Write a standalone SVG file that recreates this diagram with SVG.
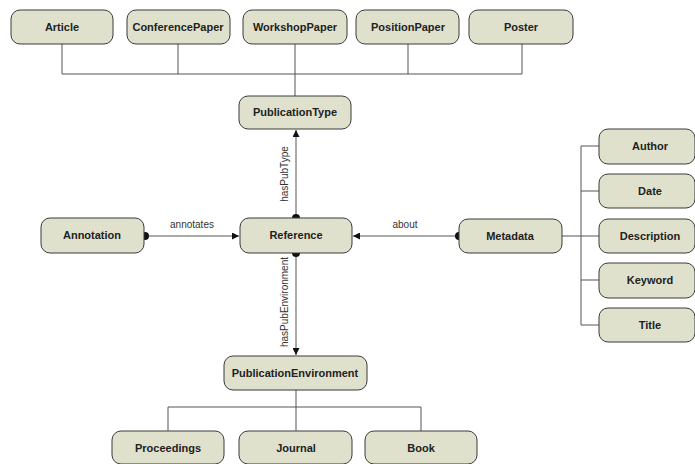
<svg xmlns="http://www.w3.org/2000/svg" width="695" height="464" viewBox="0 0 695 464">
  <style>
    .box { fill: #dfe1cc; stroke: #3a3a3a; stroke-width: 1; }
    .lbl { font-family: "Liberation Sans", Arial, sans-serif; font-size: 11px; font-weight: bold; fill: #222; text-anchor: middle; }
    .edge { fill: none; stroke: #555; stroke-width: 1; }
    .rel { font-family: "Liberation Sans", Arial, sans-serif; font-size: 10px; fill: #333; text-anchor: middle; }
  </style>
  <defs>
    <marker id="arrow" viewBox="0 0 10 10" refX="10" refY="5" markerWidth="7" markerHeight="7" orient="auto" markerUnits="userSpaceOnUse">
      <path d="M0,0 L10,5 L0,10 z" fill="#111"/>
    </marker>
    <marker id="dot" viewBox="0 0 10 10" refX="5" refY="5" markerWidth="8" markerHeight="8" markerUnits="userSpaceOnUse">
      <circle cx="5" cy="5" r="5" fill="#111"/>
    </marker>
  </defs>
  <rect width="695" height="464" fill="#fff"/>

  <g id="connectors">
    <!-- publication type hierarchy -->
    <path class="edge" d="M62,44 V74 H522 V44 M178,44 V74 M295,44 V96 M408,44 V74"/>
    <!-- metadata hierarchy -->
    <path class="edge" d="M562,236 H599 M581,146 V325 M581,146 H599 M581,191 H599 M581,280 H599 M581,325 H599"/>
    <!-- publication environment hierarchy -->
    <path class="edge" d="M296,390 V407 M168,431 V407 H421 V431 M296,407 V431"/>
    <!-- relations -->
    <line class="edge" x1="296" y1="218" x2="296" y2="130" marker-start="url(#dot)" marker-end="url(#arrow)"/>
    <line class="edge" x1="296" y1="253" x2="296" y2="355" marker-start="url(#dot)" marker-end="url(#arrow)"/>
    <line class="edge" x1="145" y1="236" x2="239" y2="236" marker-start="url(#dot)" marker-end="url(#arrow)"/>
    <line class="edge" x1="459" y1="236" x2="353" y2="236" marker-start="url(#dot)" marker-end="url(#arrow)"/>
    <text class="rel" x="192" y="228">annotates</text>
    <text class="rel" x="405" y="228">about</text>
    <text class="rel" transform="translate(288,174) rotate(-90)">hasPubType</text>
    <text class="rel" transform="translate(288,302) rotate(-90)">hasPubEnvironment</text>
  </g>

  <g id="article"><rect class="box" x="11" y="10" width="102" height="34" rx="9"/><text class="lbl" x="62" y="31">Article</text></g>
  <g id="conferencepaper"><rect class="box" x="127" y="10" width="103" height="34" rx="9"/><text class="lbl" x="178" y="31">ConferencePaper</text></g>
  <g id="workshoppaper"><rect class="box" x="243" y="10" width="104" height="34" rx="9"/><text class="lbl" x="295" y="31">WorkshopPaper</text></g>
  <g id="positionpaper"><rect class="box" x="356" y="10" width="103" height="34" rx="9"/><text class="lbl" x="408" y="31">PositionPaper</text></g>
  <g id="poster"><rect class="box" x="469" y="10" width="104" height="34" rx="9"/><text class="lbl" x="521" y="31">Poster</text></g>

  <g id="publicationtype"><rect class="box" x="239" y="96" width="112" height="33" rx="9"/><text class="lbl" x="295" y="116">PublicationType</text></g>

  <g id="annotation"><rect class="box" x="41" y="218" width="103" height="35" rx="9"/><text class="lbl" x="92" y="239">Annotation</text></g>
  <g id="reference"><rect class="box" x="240" y="218" width="112" height="35" rx="9"/><text class="lbl" x="296" y="239">Reference</text></g>
  <g id="metadata"><rect class="box" x="459" y="219" width="103" height="34" rx="9"/><text class="lbl" x="510" y="240">Metadata</text></g>

  <g id="author"><rect class="box" x="599" y="129" width="96" height="35" rx="9"/><text class="lbl" x="650" y="150">Author</text></g>
  <g id="date"><rect class="box" x="599" y="174" width="96" height="34" rx="9"/><text class="lbl" x="650" y="195">Date</text></g>
  <g id="description"><rect class="box" x="599" y="219" width="96" height="34" rx="9"/><text class="lbl" x="650" y="240">Description</text></g>
  <g id="keyword"><rect class="box" x="599" y="263" width="96" height="35" rx="9"/><text class="lbl" x="650" y="284">Keyword</text></g>
  <g id="title"><rect class="box" x="599" y="308" width="96" height="34" rx="9"/><text class="lbl" x="650" y="329">Title</text></g>

  <g id="publicationenvironment"><rect class="box" x="224" y="356" width="143" height="34" rx="9"/><text class="lbl" x="295" y="377">PublicationEnvironment</text></g>

  <g id="proceedings"><rect class="box" x="112" y="431" width="112" height="33" rx="9"/><text class="lbl" x="168" y="452">Proceedings</text></g>
  <g id="journal"><rect class="box" x="239" y="431" width="113" height="33" rx="9"/><text class="lbl" x="296" y="452">Journal</text></g>
  <g id="book"><rect class="box" x="365" y="431" width="112" height="33" rx="9"/><text class="lbl" x="421" y="452">Book</text></g>
</svg>
